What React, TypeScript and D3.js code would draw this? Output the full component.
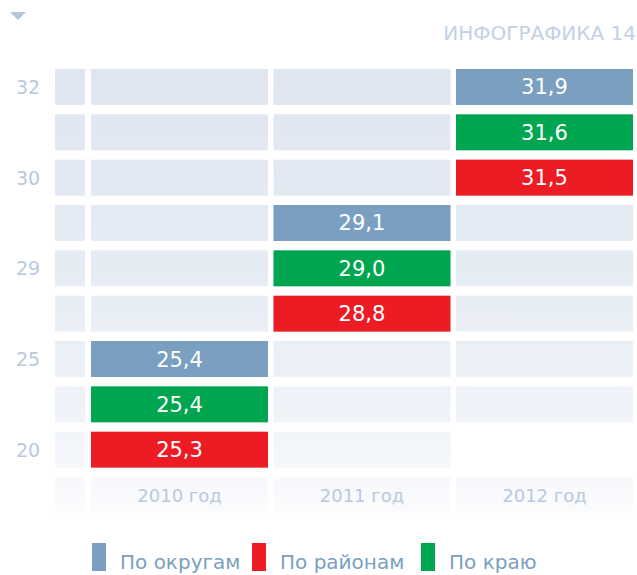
import React from 'react';
import * as d3 from 'd3';

const years = ['2010 год', '2011 год', '2012 год'];
const series = ['По округам', 'По районам', 'По краю'];
const seriesColors = ['#7a9fc0', '#ed1c24', '#00a54f'];
// values per year, in series order (округа, районы, край)
const values2010 = [25.4, 25.3, 25.4];
const values2011 = [29.1, 28.8, 29.0];
const values2012 = [31.9, 31.5, 31.6];
// stacking order inside a year block, top to bottom
const stackOrder = [0, 2, 1];
const yTickLabels = ['32', '', '30', '', '29', '', '25', '', '20'];

const W = 637;
const H = 575;
const font = '"DejaVu Sans", sans-serif';

export default function App() {
  const allValues = [values2010, values2011, values2012];
  const nRows = yTickLabels.length;

  const x = d3.scaleBand<string>().domain(years).range([91, 633]).paddingInner(0.03).paddingOuter(0);
  const rows = d3.range(nRows + 1);
  const y = d3.scaleBand<number>().domain(rows).range([69, 513]).paddingInner(0.207).paddingOuter(0);
  const color = d3.scaleOrdinal<string, string>().domain(series).range(seriesColors);
  const fmt = (v: number) => d3.format('.1f')(v).replace('.', ',');

  // year i sits in block (years.length - 1 - i), three rows per block
  const bars = allValues.flatMap((vals, yi) =>
    stackOrder.map((si, k) => ({
      year: years[yi],
      s: series[si],
      v: vals[si],
      row: (years.length - 1 - yi) * stackOrder.length + k,
    }))
  );

  const legendX = [92, 252, 421];

  return (
    <svg width={W} height={H} style={{ position: 'absolute', left: 0, top: 0, background: '#fff' }}>
      <defs>
        <linearGradient id="bg" gradientUnits="userSpaceOnUse" x1="0" y1="69" x2="0" y2="525">
          <stop offset="0" stopColor="#dfe6f0" />
          <stop offset="0.45" stopColor="#e6ecf4" />
          <stop offset="0.8" stopColor="#f1f4f9" />
          <stop offset="1" stopColor="#fcfdfe" />
        </linearGradient>
      </defs>
      <polygon points="10,12 26,12 18,20" fill="#b6c6dc" />
      <text x={636} y={40} textAnchor="end" fontFamily={font} fontSize={20} fill="#c3d1e4">
        ИНФОГРАФИКА 14
      </text>

      {/* grid background; last year has no cell in the bottom row */}
      {rows.map(r => (
        <g key={r}>
          <rect x={55} y={y(r)} width={30} height={y.bandwidth()} fill="url(#bg)" />
          {years.map((yr, yi) =>
            yi === years.length - 1 && r === nRows - 1 ? null : (
              <rect key={yr} x={x(yr)} y={y(r)} width={x.bandwidth()} height={y.bandwidth()} fill="url(#bg)" />
            )
          )}
        </g>
      ))}

      {yTickLabels.map((t, i) =>
        t ? (
          <text key={i} x={28} y={(y(i) as number) + y.bandwidth() / 2 + 7} textAnchor="middle" fontFamily={font} fontSize={19} fill="#b9c9de">
            {t}
          </text>
        ) : null
      )}

      {bars.map(b => (
        <g key={b.year + b.s}>
          <rect x={x(b.year)} y={y(b.row)} width={x.bandwidth()} height={y.bandwidth()} fill={color(b.s)} />
          <text x={(x(b.year) as number) + x.bandwidth() / 2} y={(y(b.row) as number) + y.bandwidth() / 2 + 7.5} textAnchor="middle" fontFamily={font} fontSize={21} fill="#fff">
            {fmt(b.v)}
          </text>
        </g>
      ))}

      {years.map(yr => (
        <text key={yr} x={(x(yr) as number) + x.bandwidth() / 2} y={(y(nRows) as number) + y.bandwidth() / 2 + 6.5} textAnchor="middle" fontFamily={font} fontSize={18} fill="#b9c9de">
          {yr}
        </text>
      ))}

      {series.map((s, i) => (
        <g key={s}>
          <rect x={legendX[i]} y={543} width={14} height={28} fill={color(s)} />
          <text x={legendX[i] + 28} y={569} fontFamily={font} fontSize={20} fill="#7a9fc0">
            {s}
          </text>
        </g>
      ))}
    </svg>
  );
}
